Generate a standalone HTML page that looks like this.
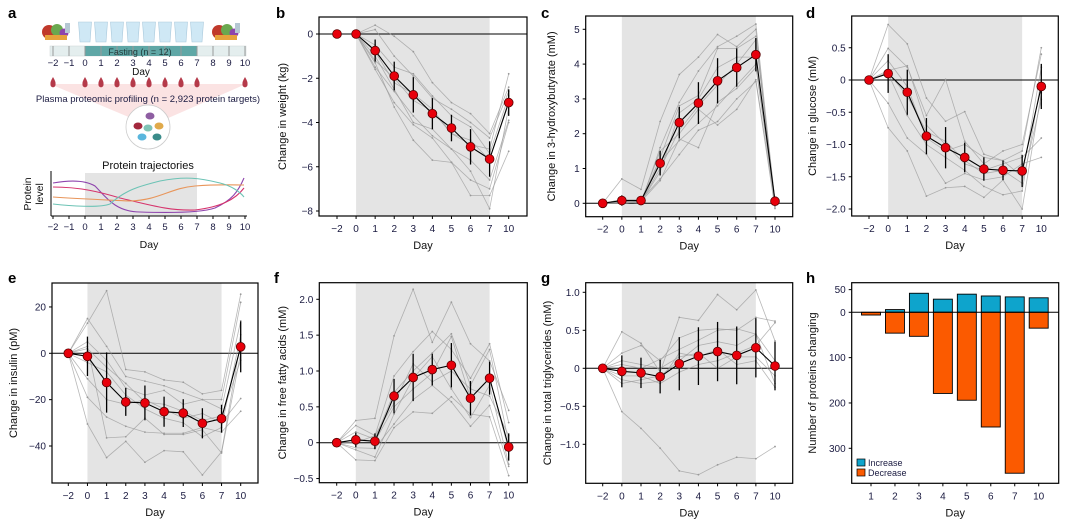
<!DOCTYPE html>
<html><head><meta charset="utf-8"><style>
body{margin:0;background:#fff;}
svg{display:block;font-family:"Liberation Sans",Arial,sans-serif;}
</style></head><body>
<svg id="fig" width="1065" height="520" viewBox="0 0 1065 520" xmlns="http://www.w3.org/2000/svg"></svg>
<script>
const days=["-2","0","1","2","3","4","5","6","7","10"];
// b weight
const bMean=[0,0,-0.75,-1.9,-2.75,-3.6,-4.25,-5.1,-5.65,-3.1];
const bErr=[0,0,0.5,0.65,0.8,0.7,0.6,0.8,0.8,0.6];
const bInd=[[0,0,0.4,-0.1,-0.8,-2.2,-3.1,-3.6,-4.5,-2.4],[0,0,0.2,-1.0,-1.9,-2.9,-3.4,-4.0,-4.7,-2.6],[0,0,-0.5,-1.5,-1.8,-2.8,-3.7,-4.2,-5.4,-2.8],[0,0,-1.2,-2.0,-3.0,-3.5,-4.5,-4.8,-5.7,-3.0],[0,0,-1.5,-2.6,-3.7,-4.6,-5.2,-5.7,-6.6,-3.9],[0,0,-1.6,-3.1,-4.1,-4.7,-5.8,-6.6,-7.0,-4.0],[0,0,-1.3,-3.3,-4.8,-5.7,-5.8,-7.3,-7.3,-5.3],[0,0,-1.0,-2.5,-4.0,-4.3,-5.2,-6.2,-7.9,-3.3],[0,0,-0.8,-2.2,-2.7,-3.4,-4.5,-5.0,-5.2,-1.8]];
const bTicks=[0,-2,-4,-6,-8];
// c 3-hydroxybutyrate
const cMean=[0,0.08,0.08,1.15,2.32,2.88,3.52,3.9,4.27,0.06];
const cErr=[0,0.15,0.05,0.35,0.45,0.6,0.65,0.55,0.48,0.1];
const cInd=[[0,0.7,0.4,2.35,3.7,4.2,4.85,4.5,5.0,-0.1],[0,0.05,0,1.6,2.9,3.8,4.5,4.8,5.15,0.05],[0,0.1,0.05,1.3,2.8,3.1,4.45,4.45,4.8,0],[0,0,0.05,1.0,2.1,2.8,3.4,4.0,4.7,0.1],[0,0.1,0.1,0.7,1.4,2.1,2.35,3.0,3.5,-0.15],[0,0.05,0.05,0.65,1.85,1.6,2.9,3.3,3.9,0.05],[0,0,0.05,1.5,2.0,2.7,2.25,2.7,3.55,0],[0,0.1,0.05,0.9,2.6,3.0,3.9,4.2,4.2,0.1],[0,0.05,0.1,1.2,1.8,2.3,2.8,3.4,4.0,0.05]];
const cTicks=[0,1,2,3,4,5];
// d glucose
const dMean=[0,0.1,-0.19,-0.87,-1.05,-1.2,-1.38,-1.4,-1.41,-0.1];
const dErr=[0,0.3,0.35,0.28,0.32,0.23,0.18,0.15,0.25,0.35];
const dInd=[[0,0.86,0.56,-0.28,-0.64,-0.49,-1.15,-1.25,-1.1,0.5],[0,0.49,0.2,-0.55,0.01,-0.95,-1.3,-1.1,-1.0,0.4],[0,0.15,0.22,-0.7,-1.0,-1.3,-1.4,-1.3,-1.2,-0.9],[0,-0.36,-0.9,-1.15,-1.6,-1.45,-1.55,-1.5,-1.3,-1.2],[0,-0.74,-1.1,-1.8,-1.67,-1.65,-1.82,-1.55,-2.0,-0.2],[0,0.1,-0.55,-1.0,-1.2,-1.4,-1.65,-1.78,-1.72,0],[0,0.3,-0.1,-0.9,-1.1,-1.0,-1.2,-1.25,-1.5,0.2],[0,0.12,-0.25,-0.8,-0.95,-1.25,-1.45,-1.4,-1.6,-0.3]];
const dTicks=[0.5,0,-0.5,-1.0,-1.5,-2.0];
const dTickLabels=["0.5","0","-0.5","-1.0","-1.5","-2.0"];
// e insulin
const eMean=[0,-1.3,-12.6,-21,-21.4,-25.2,-25.8,-30.2,-28.2,2.8];
const eErr=[0,8.5,13,6,7.5,6.5,6,6.5,6,11];
const eInd=[[0,13,27,-7,-8,-11.5,-12.5,-17.5,-16,25.5],[0,15,3,-10,-12,-14,-17,-20,-20,22],[0,5,-3,-15,-18,-16,-22,-20,-24,14],[0,-11,-20,-22,-20,-24,-28,-26,-30,-19.5],[0,-19,-27.5,-31.5,-34,-34.5,-34.5,-32,-34,-25],[0,-30.5,-45,-38,-47,-42,-42.5,-52.5,-42.5,5],[0,3,-36.5,-36,-28,-35,-35,-33,-43,0],[0,-4,-8,-18,-24,-28,-30,-36,-32,8],[0,2,-6,-13,-21,-22,-25,-29,-27,-3]];
const eTicks=[20,0,-20,-40];
// f free fatty acids
const fMean=[0,0.04,0.02,0.65,0.91,1.02,1.08,0.62,0.9,-0.06];
const fErr=[0,0.1,0.11,0.24,0.33,0.22,0.31,0.24,0.23,0.19];
const fInd=[[0,0.31,0.34,1.49,2.14,1.4,1.96,1.38,1.14,0.45],[0,0.24,0.1,0.93,1.27,1.55,1.3,0.9,1.38,0.28],[0,0.15,0.05,0.7,1.0,1.25,1.52,0.8,1.3,0],[0,0.05,0.02,0.5,0.75,0.97,1.48,0.62,0.9,-0.1],[0,-0.07,-0.08,0.26,0.6,0.8,0.57,0.23,0.52,-0.33],[0,-0.24,-0.25,0.21,0.43,0.41,0.64,0.4,0.36,-0.46],[0,0,0.1,0.55,1.1,0.85,1.0,0.75,0.65,0.1],[0,-0.1,-0.2,0.4,0.9,1.2,0.75,0.35,0.8,-0.3]];
const fTicks=[2,1.5,1,0.5,0,-0.5];
const fTickLabels=["2.0","1.5","1.0","0.5","0","-0.5"];
// g triglycerides
const gMean=[0,-0.04,-0.06,-0.11,0.06,0.16,0.22,0.17,0.27,0.03];
const gErr=[0,0.21,0.2,0.22,0.35,0.38,0.39,0.38,0.39,0.32];
const gInd=[[0,0.48,0.33,-0.05,0.67,0.63,0.97,0.77,1.03,0.36],[0,-0.57,-0.79,-1.05,-1.35,-1.4,-1.27,-1.17,-1.19,-1.03],[0,0.2,0.3,0.1,0.4,0.5,0.52,0.5,0.67,0.62],[0,0.05,0,0.12,0.25,0.37,0.5,0.52,0.45,0.1],[0,-0.2,-0.15,-0.1,0.1,0.3,0.35,0.3,0.45,-0.2],[0,-0.1,-0.1,-0.2,-0.05,0.05,0.1,0.2,0.3,0.6],[0,-0.15,-0.2,-0.17,0.2,0.15,0.25,0.05,0.1,-0.25],[0,0.1,0.05,0,0.15,0.2,0,0.15,0.15,-0.1]];
const gTicks=[1,0.5,0,-0.5,-1];
const gTickLabels=["1.0","0.5","0","-0.5","-1.0"];
// h proteins changing
const hDays=["1","2","3","4","5","6","7","10"];
const hIncrease=[0,6,42,29,40,36,34,32];
const hDecrease=[6,46,53,179,194,253,355,35];
const hTicks=[50,0,-100,-200,-300];
const hTickLabels=["50","0","100","200","300"];

const NS="http://www.w3.org/2000/svg";
const svg=document.getElementById('fig');
function mk(tag,attrs,parent,text){const e=document.createElementNS(NS,tag);for(const k in attrs)e.setAttribute(k,attrs[k]);if(text!==undefined)e.textContent=text;(parent||svg).appendChild(e);return e;}
const TF=10, AF=11;

function panel(p){
  const g=mk('g',{});
  
  
  const X=i=>p.x0+(p.x1-p.x0)*i/9;
  const Y=v=>p.yA+(v-p.vA)*(p.yB-p.yA)/(p.vB-p.vA);
  const sh=mk('rect',{x:X(1),y:p.T,width:X(8)-X(1),height:p.B-p.T,fill:'#e4e4e4'},g);
  
  
  mk('line',{x1:p.L,x2:p.R,y1:Y(0),y2:Y(0),stroke:'#000','stroke-width':1},g);
  p.ind.forEach((s,k)=>{
    const pl=mk('polyline',{points:s.map((v,i)=>X(i)+','+Y(v)).join(' '),fill:'none',stroke:'#999','stroke-opacity':0.7,'stroke-width':0.8},g);
    
    
    s.forEach((v,i)=>mk('circle',{cx:X(i),cy:Y(v),r:0.9,fill:'#999'},g));
  });
  p.err.forEach((e,i)=>{if(e>0){
    const l=mk('line',{x1:X(i),x2:X(i),y1:Y(p.mean[i]-e),y2:Y(p.mean[i]+e),stroke:'#000','stroke-width':1.3},g);
    
    
  }});
  const ml=mk('polyline',{points:p.mean.map((v,i)=>X(i)+','+Y(v)).join(' '),fill:'none',stroke:'#000','stroke-width':1.1},g);
  
  
  p.mean.forEach((v,i)=>{
    const c=mk('circle',{cx:X(i),cy:Y(v),r:4.4,fill:'#e8000b',stroke:'#5a0000','stroke-width':0.8},g);
    
    
  });
  const fr=mk('rect',{x:p.L,y:p.T,width:p.R-p.L,height:p.B-p.T,fill:'none',stroke:'#000','stroke-width':1.2},g);
  
  
  p.ticks.forEach((t,i)=>{
    mk('line',{x1:p.L-3,x2:p.L,y1:Y(t),y2:Y(t),stroke:'#000'},g);
    const tl=mk('text',{x:p.L-6,y:Y(t)+3.5,'font-size':TF,'text-anchor':'end',fill:'#1a1a40'},g,(p.tl?p.tl[i]:String(t)).replace('-','\u2212'));
    
    
  });
  days.forEach((d,i)=>{
    mk('line',{x1:X(i),x2:X(i),y1:p.B,y2:p.B+3,stroke:'#000'},g);
    const tl=mk('text',{x:X(i),y:p.B+16,'font-size':TF,'text-anchor':'middle',fill:'#1a1a40'},g,d.replace('-','\u2212'));
    
    
  });
  const xt=mk('text',{x:(p.L+p.R)/2,y:p.B+33,'font-size':AF,'text-anchor':'middle',fill:'#111'},g,'Day');
  
  
  const yt=mk('text',{x:0,y:0,'font-size':AF,'text-anchor':'middle',fill:'#111',transform:`translate(${p.yx},${(p.T+p.B)/2}) rotate(-90)`},g,p.ylabel);
  
  
  const lt=mk('text',{x:p.lx,y:p.ly,'font-size':15,'font-weight':'bold',fill:'#000'},g,p.letter);
  
  
}

panel({name:'panel-b-weight',letter:'b',lx:276,ly:18,L:319,R:527,T:17,B:216,x0:337,x1:508.7,yA:34,vA:0,yB:211,vB:-8,mean:bMean,err:bErr,ind:bInd,ticks:bTicks,ylabel:'Change in weight (kg)',yx:286});
panel({name:'panel-c-hydroxybutyrate',letter:'c',lx:541,ly:18,L:585.7,R:792.7,T:16,B:216.7,x0:602.7,x1:775,yA:203.3,vA:0,yB:29.3,vB:5,mean:cMean,err:cErr,ind:cInd,ticks:cTicks,ylabel:'Change in 3-hydroxybutyrate (mM)',yx:555});
panel({name:'panel-d-glucose',letter:'d',lx:806,ly:18,L:851.7,R:1058.3,T:16,B:216,x0:869,x1:1041.3,yA:80,vA:0,yB:209,vB:-2,mean:dMean,err:dErr,ind:dInd,ticks:dTicks,tl:dTickLabels,ylabel:'Change in glucose (mM)',yx:816});
panel({name:'panel-e-insulin',letter:'e',lx:8,ly:283,L:52,R:258,T:283,B:483,x0:68.3,x1:240.7,yA:353.3,vA:0,yB:446,vB:-40,mean:eMean,err:eErr,ind:eInd,ticks:eTicks,ylabel:'Change in insulin (pM)',yx:17});
panel({name:'panel-f-free-fatty-acids',letter:'f',lx:274,ly:283,L:319.3,R:527.3,T:282.7,B:482.7,x0:336.7,x1:508.7,yA:442.7,vA:0,yB:299.3,vB:2,mean:fMean,err:fErr,ind:fInd,ticks:fTicks,tl:fTickLabels,ylabel:'Change in free fatty acids (mM)',yx:286});
panel({name:'panel-g-triglycerides',letter:'g',lx:541,ly:283,L:585.7,R:792.7,T:282.7,B:483.3,x0:602.7,x1:775,yA:368.3,vA:0,yB:292.3,vB:1,mean:gMean,err:gErr,ind:gInd,ticks:gTicks,tl:gTickLabels,ylabel:'Change in total triglycerides (mM)',yx:551});

// panel h
(function(){
  const g=mk('g',{});
  
  
  const L=851.7,R=1058.7,T=282.7,B=483.3;
  const X=i=>871+(1038.7-871)*i/7;
  const Y=v=>312.3-v*(448.3-312.3)/300;
  const bw=19;
  hDays.forEach((d,i)=>{
    if(hIncrease[i]>0){const r=mk('rect',{x:X(i)-bw/2,y:Y(hIncrease[i]),width:bw,height:Y(0)-Y(hIncrease[i]),fill:'#0ea4cc',stroke:'#000','stroke-width':0.9},g);
      
      }
    const r2=mk('rect',{x:X(i)-bw/2,y:Y(0),width:bw,height:Y(-hDecrease[i])-Y(0),fill:'#fb5a00',stroke:'#000','stroke-width':0.9},g);
    
    
    mk('line',{x1:X(i),x2:X(i),y1:B,y2:B+3,stroke:'#000'},g);
    const tl=mk('text',{x:X(i),y:B+16,'font-size':TF,'text-anchor':'middle',fill:'#1a1a40'},g,d);
    
    
  });
  mk('line',{x1:L,x2:R,y1:Y(0),y2:Y(0),stroke:'#000','stroke-width':1},g);
  mk('rect',{x:L,y:T,width:R-L,height:B-T,fill:'none',stroke:'#000','stroke-width':1.2},g);
  hTicks.forEach((t,i)=>{
    mk('line',{x1:L-3,x2:L,y1:Y(t),y2:Y(t),stroke:'#000'},g);
    const tl=mk('text',{x:L-6,y:Y(t)+3.5,'font-size':TF,'text-anchor':'end',fill:'#1a1a40'},g,hTickLabels[i]);
    
    
  });
  const xt=mk('text',{x:(L+R)/2,y:B+33,'font-size':AF,'text-anchor':'middle',fill:'#111'},g,'Day');
  
  
  const yt=mk('text',{x:0,y:0,'font-size':AF,'text-anchor':'middle',fill:'#111',transform:`translate(816,${(T+B)/2}) rotate(-90)`},g,'Number of proteins changing');
  
  
  const lg=mk('g',{},g);
  
  
  mk('rect',{x:857,y:459,width:8,height:7,fill:'#0ea4cc',stroke:'#000','stroke-width':0.7},lg);
  mk('text',{x:868,y:466,'font-size':9,fill:'#1a1a40'},lg,'Increase');
  mk('rect',{x:857,y:469,width:8,height:7,fill:'#fb5a00',stroke:'#000','stroke-width':0.7},lg);
  mk('text',{x:868,y:476,'font-size':9,fill:'#1a1a40'},lg,'Decrease');
  const lt=mk('text',{x:806,y:283,'font-size':15,'font-weight':'bold',fill:'#000'},g,'h');
  
  
})();

// panel a schematic
(function(){
  const g=mk('g',{});
  
  
  mk('text',{x:8,y:18,'font-size':15,'font-weight':'bold'},g,'a');
  const tx=i=>53+16*i;
  [[55,32],[225,32]].forEach(([cx,cy])=>{
    const f=mk('g',{},g);
    
    
    mk('circle',{cx:cx-6,cy:cy,r:7,fill:'#c0392b'},f);
    mk('circle',{cx:cx+2,cy:cy-2,r:6,fill:'#6aa84f'},f);
    mk('circle',{cx:cx+9,cy:cy+1,r:4.5,fill:'#8e44ad'},f);
    mk('rect',{x:cx-10,y:cy+3,width:22,height:5,fill:'#e6a23c'},f);
    mk('rect',{x:cx+10,y:cy-9,width:5,height:10,fill:'#b5c7d3'},f);
  });
  for(let i=0;i<8;i++){
    const x=tx(2+i);
    const gl=mk('path',{d:`M${x-6.5},22 L${x+6.5},22 L${x+5},42 L${x-5},42 Z`,fill:'#cfe8f5',stroke:'#a9c9dc','stroke-width':0.6},g);
    
    
  }
  mk('rect',{x:50,y:46,width:196,height:10,fill:'#e4eeee',stroke:'#c9d4d4','stroke-width':0.5},g);
  const fb=mk('rect',{x:tx(2),y:46,width:tx(9)-tx(2),height:10,fill:'#5fa7a6'},g);
  
  
  for(let i=0;i<13;i++)mk('line',{x1:tx(i),x2:tx(i),y1:46,y2:56,stroke:'#999','stroke-width':1},g);
  mk('text',{x:140,y:55,'font-size':9,'text-anchor':'middle',fill:'#1f3a3a'},g,'Fasting (n = 12)');
  const dl=["-2","-1","0","1","2","3","4","5","6","7","8","9","10"];
  dl.forEach((d,i)=>mk('text',{x:tx(i),y:66,'font-size':9.5,'text-anchor':'middle',fill:'#1a1a40'},g,d.replace('-','\u2212')));
  mk('text',{x:141,y:75,'font-size':10,'text-anchor':'middle',fill:'#111'},g,'Day');
  mk('path',{d:'M50,84 L246,84 L150,126 Z',fill:'#fbe3e3'},g);
  [0,2,3,4,5,6,7,8,9,12].forEach(i=>{
    const x=tx(i);
    const dr=mk('path',{d:`M${x},77 Q${x+3},82 ${x+2.5},84 A2.6,2.6 0 1 1 ${x-2.5},84 Q${x-3},82 ${x},77 Z`,fill:'#b53a4a'},g);
    
    
  });
  mk('text',{x:148,y:102,'font-size':9.5,'text-anchor':'middle',fill:'#1a1a40'},g,'Plasma proteomic profiling (n = 2,923 protein targets)');
  mk('circle',{cx:148,cy:127,r:22,fill:'#fff',stroke:'#ccc','stroke-width':0.8},g);
  [[150,116,'#8e5ea2'],[138,126,'#a3283d'],[159,126,'#e0aa4b'],[148,128,'#7fc3b5'],[142,137,'#5ab6dd'],[157,137,'#3a8c8a']].forEach(([x,y,c])=>mk('ellipse',{cx:x,cy:y,rx:4.5,ry:3.5,fill:c},g));
  mk('text',{x:148,y:169,'font-size':11,'text-anchor':'middle',fill:'#111'},g,'Protein trajectories');
  const mx=i=>53+16*i;
  mk('rect',{x:mx(2),y:173,width:mx(9)-mx(2),height:43,fill:'#e4e4e4'},g);
  mk('line',{x1:51,x2:51,y1:171,y2:216,stroke:'#000'},g);
  mk('line',{x1:51,x2:247,y1:216,y2:216,stroke:'#000'},g);
  dl.forEach((d,i)=>{mk('line',{x1:mx(i),x2:mx(i),y1:216,y2:219,stroke:'#000'},g);
    mk('text',{x:mx(i),y:230,'font-size':9.5,'text-anchor':'middle',fill:'#1a1a40'},g,d.replace('-','\u2212'));});
  mk('text',{x:149,y:248,'font-size':10.5,'text-anchor':'middle',fill:'#111'},g,'Day');
  mk('text',{x:0,y:0,'font-size':10.5,'text-anchor':'middle',fill:'#111',transform:'translate(31,194) rotate(-90)'},g,'Protein');
  mk('text',{x:0,y:0,'font-size':10.5,'text-anchor':'middle',fill:'#111',transform:'translate(43,194) rotate(-90)'},g,'level');
  const curves=[['#8e44ad','M53,183 C70,180 85,180 95,186 C105,196 115,212 140,212 C170,213 200,213 215,208 C232,200 238,192 244,178'],
    ['#d6336c','M53,187 C80,187 100,192 120,198 C150,205 170,211 195,210 C220,207 235,200 244,188'],
    ['#e8955a','M53,197 C80,199 110,200 130,201 C160,200 170,188 195,186 C220,184 235,185 244,185'],
    ['#6cc3b5','M53,204 C70,206 100,208 110,204 C125,190 140,186 160,181 C185,176 200,178 220,183 C232,186 240,192 244,197']];
  curves.forEach(([c,d])=>{const p=mk('path',{d:d,fill:'none',stroke:c,'stroke-width':1.1},g);
    
    });
})();
</script>
</body></html>
